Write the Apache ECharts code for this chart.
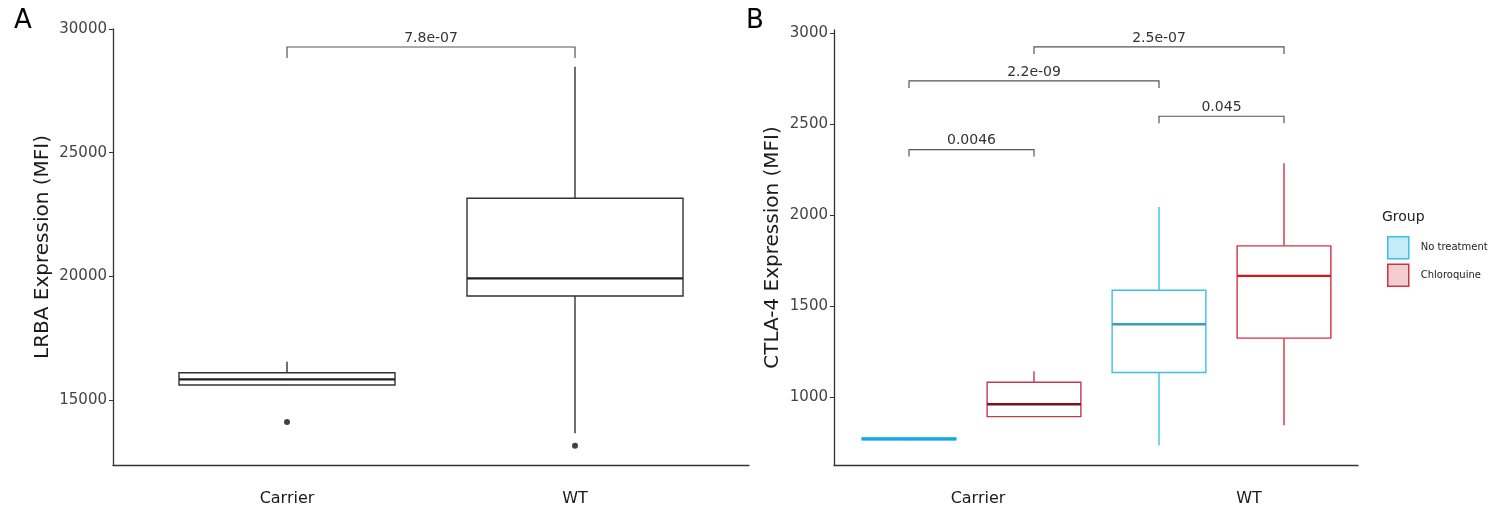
<!DOCTYPE html>
<html>
<head>
<meta charset="utf-8">
<script src="https://cdn.jsdelivr.net/npm/echarts@6/dist/echarts.min.js"></script>
<style>html,body{margin:0;padding:0;background:#fff}#c{width:1500px;height:516px}</style>
</head>
<body>
<div id="c"></div>
<script>
// ---------- DATA ----------
// Panel A: LRBA expression
const categoriesA = ['Carrier', 'WT'];
// [min, Q1, median, Q3, max]
const lrbaCarrier = [15600, 15604, 15835, 16100, 16546];
const lrbaWT = [13651, 19203, 19919, 23154, 28476];
const lrbaOutliers = [[0, 14110], [1, 13150]];
const lrbaComparisons = [[0, 1, 29272]];
const lrbaPLabels = ['7.8e-07'];
const ticksA = [15000, 20000, 25000, 30000];

// Panel B: CTLA-4 expression
const groupsB = ['Carrier', 'WT'];
const treatments = ['No treatment', 'Chloroquine'];
const slotsB = ['Carrier / No treatment', 'Carrier / Chloroquine', 'WT / No treatment', 'WT / Chloroquine'];
const ctlaNoTreatment = [[762, 764, 769, 774, 776], [735, 1134, 1399, 1586, 2044]];
const ctlaChloroquine = [[892, 892, 960, 1081, 1141], [845, 1323, 1665, 1830, 2284]];
const ctlaComparisons = [[0, 1, 2359], [2, 3, 2542], [0, 2, 2736], [1, 3, 2923]];
const ctlaPLabels = ['0.0046', '0.045', '2.2e-09', '2.5e-07'];
const ticksB = [1000, 1500, 2000, 2500, 3000];

// ---------- STYLE ----------
const FONT = 'DejaVu Sans';
const AXIS_COLOR = '#333';
const BLUE = '#3DC0E6', BLUE_FLAT = '#14A6EC', BLUE_MED = '#3A9DB6';
const RED = '#CF3343', RED_C = '#C33A4E', RED_MED_C = '#7A1020', RED_MED = '#D4141E';

const chart = echarts.init(document.getElementById('c'));

// box series drawn through the axes (ggplot-style: no whisker caps)
function boxSeries(name, xi, yi, items, strokes, fills, medColors) {
  return {
    type: 'custom', name: name, xAxisIndex: xi, yAxisIndex: yi, z: 3,
    encode: { x: 0, y: [1, 2, 3, 4, 5] },
    data: items,
    renderItem: function (params, api) {
      const i = params.dataIndex;
      const x = api.value(0);
      const halfW = api.size([1, 0])[0] * 0.375;
      const pMin = api.coord([x, api.value(1)]);
      const pQ1 = api.coord([x, api.value(2)]);
      const pMed = api.coord([x, api.value(3)]);
      const pQ3 = api.coord([x, api.value(4)]);
      const pMax = api.coord([x, api.value(5)]);
      const cx = pMed[0];
      const stroke = strokes[i];
      return {
        type: 'group', children: [
          { type: 'line', shape: { x1: cx, y1: pQ3[1], x2: cx, y2: pMax[1] }, style: { stroke: stroke, lineWidth: 1.4 } },
          { type: 'line', shape: { x1: cx, y1: pQ1[1], x2: cx, y2: pMin[1] }, style: { stroke: stroke, lineWidth: 1.4 } },
          { type: 'rect', shape: { x: cx - halfW, y: pQ3[1], width: 2 * halfW, height: pQ1[1] - pQ3[1] },
            style: { fill: fills[i], stroke: stroke, lineWidth: 1.4 } },
          { type: 'line', shape: { x1: cx - halfW, y1: pMed[1], x2: cx + halfW, y2: pMed[1] }, style: { stroke: medColors[i], lineWidth: 2.4 } }
        ]
      };
    }
  };
}

function bracketSeries(xi, yi, comps, labels, tip) {
  return {
    type: 'custom', xAxisIndex: xi, yAxisIndex: yi, silent: true, z: 5,
    encode: { x: [0, 1], y: 2 },
    data: comps,
    renderItem: function (params, api) {
      const p1 = api.coord([api.value(0), api.value(2)]);
      const p2 = api.coord([api.value(1), api.value(2)]);
      return {
        type: 'group', children: [
          { type: 'polyline', shape: { points: [[p1[0], p1[1] + tip], [p1[0], p1[1]], [p2[0], p2[1]], [p2[0], p2[1] + tip]] },
            style: { stroke: '#555', lineWidth: 1.2, fill: null } },
          { type: 'text', x: (p1[0] + p2[0]) / 2, y: p1[1] - 2,
            style: { text: labels[params.dataIndex], fontFamily: FONT, fontSize: 14, fill: '#333', align: 'center', verticalAlign: 'bottom' } }
        ]
      };
    }
  };
}

const hiddenValueAxis = (gi) => ({ type: 'value', gridIndex: gi, show: false, min: 0, max: 1 });
const lineAxis = (gi) => ({ type: 'value', gridIndex: gi, min: 0, max: 1, axisLine: { show: true, onZero: false, lineStyle: { color: AXIS_COLOR, width: 1.3 } },
  axisTick: { show: false }, axisLabel: { show: false }, splitLine: { show: false } });
const labelAxis = (gi, cats) => ({ type: 'category', gridIndex: gi, data: cats, axisLine: { show: false }, axisTick: { show: false },
  axisLabel: { fontFamily: FONT, fontSize: 16, color: '#1a1a1a', margin: 26 }, splitLine: { show: false } });

const yAxisStyle = (min, max, ticks, name, offset, gap) => ({
  type: 'value', min: min, max: max, offset: offset,
  name: name, nameLocation: 'middle', nameGap: gap,
  nameTextStyle: { fontFamily: FONT, fontSize: 20, color: '#1a1a1a' },
  axisLine: { show: true, onZero: false, lineStyle: { color: AXIS_COLOR, width: 1.3 } },
  axisTick: { show: true, length: 4, customValues: ticks, lineStyle: { color: AXIS_COLOR } },
  axisLabel: { customValues: ticks, formatter: (v) => String(v), fontFamily: FONT, fontSize: 15, color: '#444', margin: 6 },
  splitLine: { show: false }
});

const ntItems = [[0].concat(ctlaNoTreatment[0]), [2].concat(ctlaNoTreatment[1])];
const cqItems = [[1].concat(ctlaChloroquine[0]), [3].concat(ctlaChloroquine[1])];

const option = {
  backgroundColor: '#fff',
  animation: false,
  grid: [
    { left: 143, width: 576, top: 29, height: 436 },      // A data
    { left: 113, width: 636, top: 29, height: 436 },      // A axis line
    { left: 846.5, width: 500, top: 30, height: 435 },    // B data
    { left: 834, width: 524, top: 30, height: 435 },      // B axis line
    { left: 842.5, width: 542, top: 30, height: 435 }     // B labels
  ],
  xAxis: [
    labelAxis(0, categoriesA),
    lineAxis(1),
    { type: 'category', gridIndex: 2, data: slotsB, show: false },
    lineAxis(3),
    labelAxis(4, groupsB)
  ],
  yAxis: [
    Object.assign({ gridIndex: 0 }, yAxisStyle(12372, 30000, ticksA, 'LRBA Expression (MFI)', 30, 60)),
    hiddenValueAxis(1),
    Object.assign({ gridIndex: 2 }, yAxisStyle(626, 3016, ticksB, 'CTLA-4 Expression (MFI)', 12.5, 51)),
    hiddenValueAxis(3),
    hiddenValueAxis(4)
  ],
  legend: {
    orient: 'vertical', left: 1382, top: 231,
    itemWidth: 21, itemHeight: 22, itemGap: 4,
    textStyle: { fontFamily: FONT, fontSize: 10, color: '#222', padding: [0, 0, 0, 7] },
    data: [
      { name: treatments[0], icon: 'rect', itemStyle: { color: '#C4ECF8', borderColor: BLUE, borderWidth: 1.5 } },
      { name: treatments[1], icon: 'rect', itemStyle: { color: '#F4CDD2', borderColor: RED, borderWidth: 1.5 } }
    ]
  },
  graphic: [
    { type: 'text', left: 14, top: 8, style: { text: 'A', fontFamily: FONT, fontSize: 26, fill: '#000' } },
    { type: 'text', left: 746, top: 8, style: { text: 'B', fontFamily: FONT, fontSize: 26, fill: '#000' } },
    { type: 'text', left: 1382, top: 210, style: { text: 'Group', fontFamily: FONT, fontSize: 14, fill: '#222' } }
  ],
  series: [
    boxSeries('LRBA', 0, 0, [[0].concat(lrbaCarrier), [1].concat(lrbaWT)], ['#333', '#333'], ['#fff', '#fff'], ['#222', '#222']),
    {
      type: 'scatter', xAxisIndex: 0, yAxisIndex: 0, symbolSize: 6,
      itemStyle: { color: '#111' }, data: lrbaOutliers
    },
    bracketSeries(0, 0, lrbaComparisons, lrbaPLabels, 11),
    boxSeries(treatments[0], 2, 2, ntItems, [BLUE_FLAT, BLUE], [BLUE_FLAT, '#fff'], [BLUE_FLAT, BLUE_MED]),
    boxSeries(treatments[1], 2, 2, cqItems, [RED_C, RED], ['#fff', '#fff'], [RED_MED_C, RED_MED]),
    bracketSeries(2, 2, ctlaComparisons, ctlaPLabels, 7)
  ]
};
chart.setOption(option);
</script>
</body>
</html>
